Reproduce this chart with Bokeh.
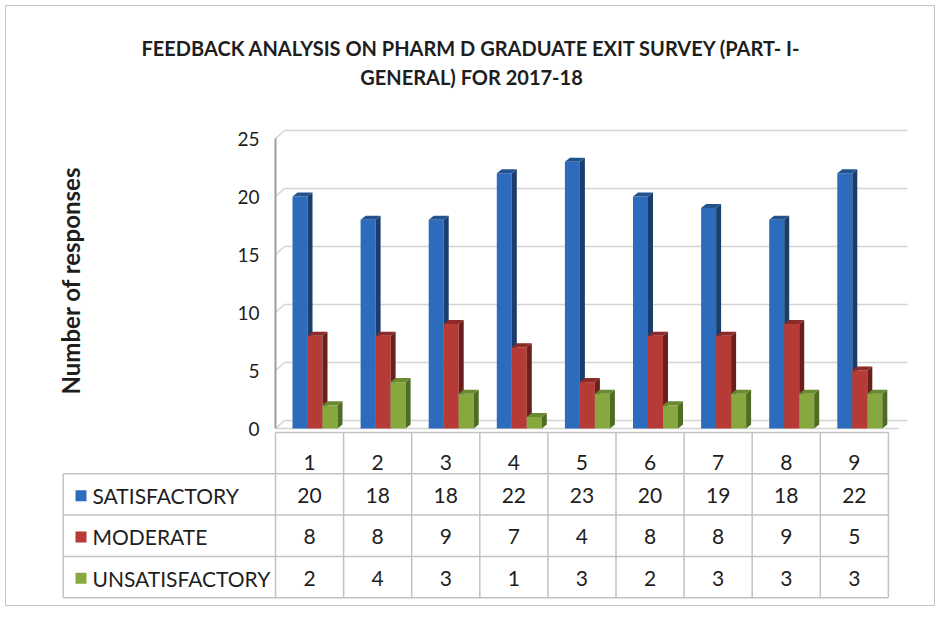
import numpy as np
from bokeh.plotting import figure
from bokeh.models import Range1d, FixedTicker, LinearAxis
from bokeh.core.properties import value
from bokeh.embed import file_html
from bokeh.resources import INLINE

# ---------------- data ----------------
title_lines = ["FEEDBACK ANALYSIS ON PHARM D GRADUATE EXIT SURVEY (PART- I-",
               "GENERAL) FOR 2017-18"]
categories = ["1", "2", "3", "4", "5", "6", "7", "8", "9"]
series_names = ["SATISFACTORY", "MODERATE", "UNSATISFACTORY"]
satisfactory = [20, 18, 18, 22, 23, 20, 19, 18, 22]
moderate = [8, 8, 9, 7, 4, 8, 8, 9, 5]
unsatisfactory = [2, 4, 3, 1, 3, 2, 3, 3, 3]
y_ticks = [0, 5, 10, 15, 20, 25]
y_label = "Number of responses"

# ---------------- styles / layout ----------------
FONT = "Lato"
TXT = "#1e1e1e"
front_colors = ["#2d6cbc", "#b63b36", "#86a83e"]
side_colors = ["#1a3d6e", "#6b1f1c", "#506b22"]
top_colors = ["#23538f", "#8c2b27", "#6a8a30"]
GRID = "#d4d4d4"
TABLE_LINE = "#c2c2c2"

M = 5                # outer margin of the chart box
W, H = 930, 601
PX = 68.1            # pixels per category
YPX = 11.6           # pixels per response unit
X0 = 275 - M         # figure px of category origin
Y0 = 428 - M         # figure px (from top) of zero responses
RH = 41.3            # table row height px
T0 = 432 - M         # figure px (from top) of table top

series = [satisfactory, moderate, unsatisfactory]
n = len(categories)

p = figure(width=W, height=H,
           x_range=Range1d(-X0 / PX, (W - X0) / PX),
           y_range=Range1d(-(H - Y0) / YPX, Y0 / YPX),
           x_axis_type=None, y_axis_type=None, output_backend="svg",
           toolbar_location=None, min_border=0)
p.margin = (M, 0, 0, M)
p.extra_y_ranges = {"table": Range1d((H - T0) / RH, -T0 / RH),
                    "px": Range1d(H, 0)}
p.extra_x_ranges = {"px": Range1d(0, W)}
p.grid.visible = False
p.outline_line_color = "#c4c4c4"

# title
p.text(x=[471 - M, 471 - M], y=[47 - M, 76 - M], text=title_lines,
       x_range_name="px", y_range_name="px", text_font=value(FONT),
       text_font_style="bold", text_font_size="20px", text_color=TXT,
       text_align="center", text_baseline="middle")

# y axis at category origin
yax = LinearAxis(fixed_location=0, ticker=FixedTicker(ticks=y_ticks))
yax.axis_line_color = None
yax.major_tick_line_color = None
yax.minor_tick_line_color = None
yax.major_tick_out = 0
yax.major_label_standoff = 16
yax.major_label_text_font = FONT
yax.major_label_text_font_size = "19px"
yax.major_label_text_color = TXT
p.add_layout(yax, "left")

p.text(x=[70 - M], y=[280 - M], text=[y_label], x_range_name="px",
       y_range_name="px", angle=np.pi / 2, text_font=value(FONT),
       text_font_style="bold", text_font_size="24px", text_color=TXT,
       text_align="center", text_baseline="middle")

# 3D wall
DX, DY = 9 / PX, 8 / YPX
wall_end = (907 - 275) / PX
gx0 = [DX] * len(y_ticks)
gy = [t + DY for t in y_ticks]
p.segment(x0=gx0, y0=gy, x1=[wall_end] * len(y_ticks), y1=gy,
          line_color=GRID, line_width=1.5)
p.segment(x0=[0] * len(y_ticks), y0=y_ticks, x1=gx0, y1=gy,
          line_color=GRID, line_width=1.5)
p.segment(x0=[0], y0=[0], x1=[wall_end - DX], y1=[0], line_color=GRID, line_width=1.5)
p.segment(x0=[0], y0=[0], x1=[0], y1=[max(y_ticks)], line_color="#9e9e9e", line_width=2)

# bars
OFF = 17 / PX
BW = 15 / PX
BDX, BDY = 5 / PX, 4 / YPX
idx = np.arange(n)
for s, vals in enumerate(series):
    left = idx + OFF + s * BW
    right = left + BW
    v = np.array(vals, dtype=float)
    p.quad(left=left, right=right, bottom=0, top=v,
           fill_color=front_colors[s], line_color=None)
    side_xs = [[r, r + BDX, r + BDX, r] for r in right]
    side_ys = [[0, BDY, h + BDY, h] for h in v]
    p.patches(side_xs, side_ys, fill_color=side_colors[s], line_color=None)
    top_xs = [[l, l + BDX, r + BDX, r] for l, r in zip(left, right)]
    top_ys = [[h, h + BDY, h + BDY, h] for h in v]
    p.patches(top_xs, top_ys, fill_color=top_colors[s], line_color=None)

# ---------------- data table ----------------
LBL_LEFT = (62.7 - 275) / PX
nrows = len(series) + 1
p.segment(x0=list(range(n + 1)), y0=[0] * (n + 1), x1=list(range(n + 1)),
          y1=[nrows] * (n + 1), y_range_name="table",
          line_color=TABLE_LINE, line_width=1.5)
p.segment(x0=[LBL_LEFT], y0=[1], x1=[LBL_LEFT], y1=[nrows], y_range_name="table",
          line_color=TABLE_LINE, line_width=1.5)
hx0 = [0] + [LBL_LEFT] * nrows
hy = list(range(nrows + 1))
p.segment(x0=hx0, y0=hy, x1=[n] * len(hy), y1=hy, y_range_name="table",
          line_color=TABLE_LINE, line_width=1.5)

cx = idx + 0.5
p.text(x=cx, y=[0.73] * n, text=categories, y_range_name="table",
       text_font=value(FONT), text_font_size="21px", text_color=TXT,
       text_align="center", text_baseline="middle")
for s, vals in enumerate(series):
    ry = s + 1 + 0.53
    p.text(x=cx, y=[ry] * n, text=[str(v) for v in vals], y_range_name="table",
           text_font=value(FONT), text_font_size="21px", text_color=TXT,
           text_align="center", text_baseline="middle")
    p.scatter(x=[(80.5 - 275) / PX], y=[ry], y_range_name="table", marker="square",
              size=11, fill_color=front_colors[s], line_color=None)
    p.text(x=[(92 - 275) / PX], y=[ry], text=[series_names[s]], y_range_name="table",
           text_font=value(FONT), text_font_size="21px", text_color=TXT,
           text_align="left", text_baseline="middle")

open("out.html", "w").write(file_html(p, INLINE))
